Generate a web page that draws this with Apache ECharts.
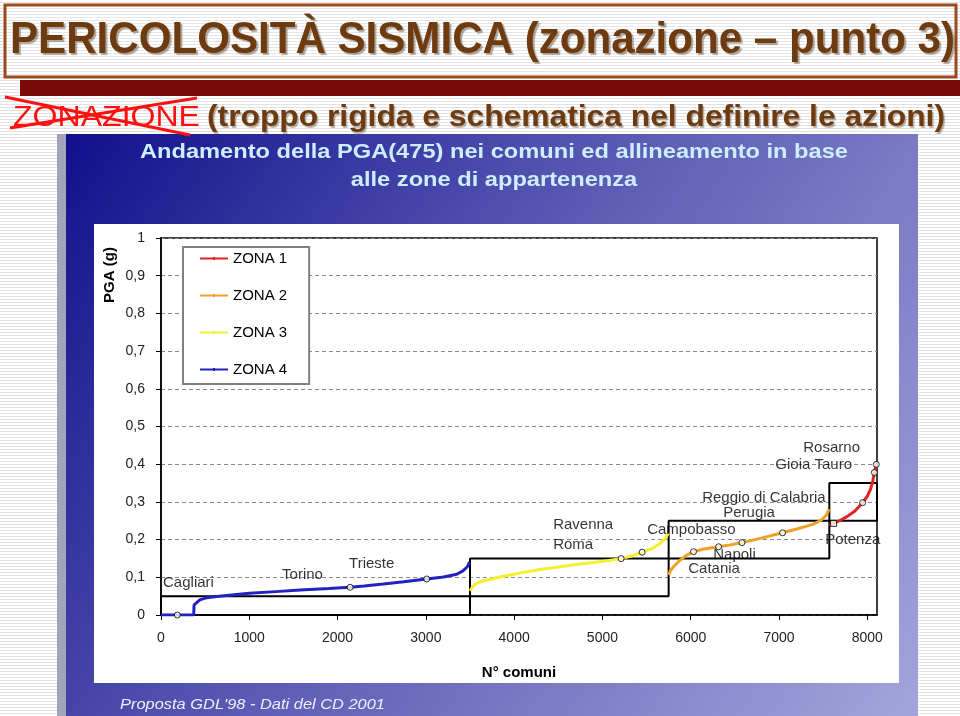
<!DOCTYPE html>
<html>
<head>
<meta charset="utf-8">
<script src="https://cdn.jsdelivr.net/npm/echarts@6/dist/echarts.min.js"></script>
<style>
html,body{margin:0;padding:0;}
body{width:960px;height:716px;overflow:hidden;
background:repeating-linear-gradient(to bottom,#ffffff 0px,#ffffff 2px,#e2e2e2 2px,#e2e2e2 3px);}
#chart{width:960px;height:716px;}
</style>
</head>
<body>
<div id="chart"></div>
<script>
// ---------- DATA ----------
const zoneNames = ['ZONA 1', 'ZONA 2', 'ZONA 3', 'ZONA 4'];
// zone limits: [start N°, end N°, low PGA, high PGA]
const zoneStart = [7570, 5750, 3500, 0];
const zoneEnd   = [8110, 7570, 5750, 3500];
const zoneLow   = [0.25, 0.15, 0.05, 0];
const zoneHigh  = [0.35, 0.25, 0.15, 0.05];

// PGA(475) of comuni sorted within zone: [N° comune, PGA g]
const zona4 = [[0,0],[185,0],[370,0],[375,0.027],[440,0.040],[520,0.046],[630,0.049],[800,0.053],
  [1000,0.0575],[1300,0.062],[1575,0.066],[1900,0.070],[2142,0.0735],[2300,0.077],[2518,0.082],
  [2750,0.088],[3010,0.0955],[3200,0.101],[3350,0.108],[3420,0.117],[3470,0.128],[3495,0.141]];
const zona3 = [[3500,0.064],[3530,0.075],[3570,0.083],[3615,0.088],[3766,0.097],[3950,0.106],
  [4144,0.1146],[4330,0.122],[4521,0.128],[4700,0.134],[4899,0.139],[5050,0.144],[5212,0.1495],
  [5350,0.158],[5450,0.1665],[5560,0.176],[5654,0.19],[5710,0.202],[5748,0.217]];
const zona2 = [[5750,0.106],[5770,0.118],[5805,0.128],[5881,0.146],[5950,0.158],[6032,0.168],
  [6150,0.175],[6316,0.181],[6450,0.186],[6580,0.192],[6800,0.204],[7040,0.218],[7200,0.228],
  [7392,0.241],[7480,0.252],[7540,0.266],[7568,0.281]];
const zona1 = [[7570,0.238],[7618,0.243],[7700,0.252],[7770,0.261],[7860,0.276],[7947,0.298],
  [8000,0.315],[8034,0.332],[8060,0.352],[8080,0.378],[8102,0.3995]];

// highlighted comuni: [name, N°, PGA]
const cityPoints = [['Cagliari',185,0],['Torino',2142,0.0735],['Trieste',3010,0.0955],
  ['Roma',5212,0.1495],['Ravenna',5450,0.1665],['Catania',6032,0.168],['Napoli',6316,0.181],
  ['Campobasso',6580,0.192],['Perugia',7040,0.218],['Potenza',7618,0.243],
  ['Reggio di Calabria',7947,0.298],['Gioia Tauro',8080,0.378],['Rosarno',8102,0.3995]];
// label anchors in data space: [name, N°, PGA]
const cityLabels = [['Cagliari',23,0.085],['Torino',1371,0.106],['Trieste',2130,0.135],
  ['Ravenna',4442,0.239],['Roma',4442,0.186],['Campobasso',5507,0.225],['Napoli',6255,0.159],
  ['Catania',5972,0.122],['Perugia',6368,0.271],['Reggio di Calabria',6130,0.310],
  ['Potenza',7524,0.199],['Rosarno',7275,0.443],['Gioia Tauro',6958,0.398]];

const xTicks = {min:0, max:8110, interval:1000};
const yTicks = {min:0, max:1, interval:0.1};

// ---------- STYLE ----------
const zoneColors = ['#e02424', '#eea028', '#f4f030', '#2222c0'];
const FONT = '"Liberation Sans", Arial, sans-serif';
const legendIcon = 'path://M0,6L28,6L28,8L0,8Z M13,5.4L15,5.4L15,8.6L13,8.6Z';

const ctx = document.createElement('canvas').getContext('2d');
function fit(text, font, target){ ctx.font = font; return target / ctx.measureText(text).width; }

const titleFont = 'bold 44px ' + FONT;
const titleText = 'PERICOLOSITÀ SISMICA (zonazione – punto 3)';
const sub1Font = '30px ' + FONT;
const sub2Font = 'bold 30px ' + FONT;
const sub2Text = '(troppo rigida e schematica nel definire le azioni)';
const chartTitleFont = 'bold 21px ' + FONT;
const ct1 = 'Andamento della PGA(475) nei comuni ed allineamento in base';
const ct2 = 'alle zone di appartenenza';
const ctScale = fit(ct1, chartTitleFont, 708);
const footFont = 'italic 15px ' + FONT;
const footText = "Proposta GDL'98 - Dati del CD 2001";

const zoneData = [zona1, zona2, zona3, zona4];

const series = [];
// zone boxes
for (let i = 0; i < 4; i++) {
  const a = zoneStart[i], b = zoneEnd[i], lo = zoneLow[i], hi = zoneHigh[i];
  series.push({type:'line', name:'box'+i, data:[[a,lo],[b,lo],[b,hi],[a,hi],[a,lo]],
    symbol:'none', lineStyle:{color:'#000', width:2}, z:3, silent:true});
}
// PGA curves
for (let i = 0; i < 4; i++) {
  series.push({type:'line', name:zoneNames[i], data:zoneData[i], symbol:'none',
    color:zoneColors[i], lineStyle:{color:zoneColors[i], width:3}, z:4});
}
// city markers
series.push({type:'scatter', name:'comuni', data:cityPoints.map(c=>({name:c[0], value:[c[1],c[2]]})),
  symbol:(v,p)=> p.name==='Potenza' ? 'rect' : 'circle', symbolSize:6,
  itemStyle:{color:'#fff', borderColor:'#000', borderWidth:1}, z:6});
// city labels
series.push({type:'scatter', name:'etichette', data:cityLabels.map(c=>({name:c[0], value:[c[1],c[2]]})),
  symbolSize:0, z:7, silent:true,
  label:{show:true, position:'right', distance:0, formatter:'{b}', fontSize:15, fontFamily:FONT, color:'#000'}});

const option = {
  animation:false,
  backgroundColor:'transparent',
  graphic:[
    // title box
    {type:'rect', shape:{x:5,y:5,width:951,height:72}, style:{fill:'rgba(255,255,255,0.15)', stroke:'#9a4a1c', lineWidth:3}, z:-20},
    {type:'rect', shape:{x:20,y:80,width:940,height:16}, style:{fill:'#7a0a0a'}, z:-20},
    {type:'text', x:10, y:41, scaleX:fit(titleText,titleFont,945), z:10,
      style:{text:titleText, font:titleFont, fill:'#6e3a10', align:'left', verticalAlign:'middle',
        textShadowColor:'rgba(80,60,40,0.45)', textShadowOffsetX:2, textShadowOffsetY:2, textShadowBlur:1}},
    {type:'text', x:13, y:118, scaleX:fit('ZONAZIONE',sub1Font,187), z:10,
      style:{text:'ZONAZIONE', font:sub1Font, fill:'#ff1010', align:'left', verticalAlign:'middle'}},
    {type:'text', x:207, y:118, scaleX:fit(sub2Text,sub2Font,738), z:10,
      style:{text:sub2Text, font:sub2Font, fill:'#6e3a10', align:'left', verticalAlign:'middle',
        textShadowColor:'rgba(80,60,40,0.4)', textShadowOffsetX:1.5, textShadowOffsetY:1.5, textShadowBlur:1}},
    {type:'line', shape:{x1:5,y1:97,x2:190,y2:135}, style:{stroke:'#ff1010', lineWidth:3}, z:11},
    {type:'line', shape:{x1:10,y1:128,x2:197,y2:98}, style:{stroke:'#ff1010', lineWidth:3}, z:11},
    // panel
    {type:'rect', shape:{x:57,y:134,width:10,height:582}, style:{fill:'#a4a4b8'}, z:-20},
    {type:'rect', shape:{x:66,y:134,width:852,height:582}, z:-20,
      style:{fill:new echarts.graphic.LinearGradient(0,0,1,1,[
        {offset:0,color:'#10108c'},{offset:0.45,color:'#5a5ab4'},{offset:1,color:'#a4a4dc'}])}},
    {type:'rect', shape:{x:94,y:224,width:805,height:459}, style:{fill:'#ffffff'}, z:-19},
    {type:'text', x:494, y:152, scaleX:ctScale, z:10,
      style:{text:ct1, font:chartTitleFont, fill:'#cdeeff', align:'center', verticalAlign:'middle'}},
    {type:'text', x:494, y:180, scaleX:ctScale, z:10,
      style:{text:ct2, font:chartTitleFont, fill:'#cdeeff', align:'center', verticalAlign:'middle'}},
    {type:'text', x:120, y:705, scaleX:fit(footText,footFont,265), z:10,
      style:{text:footText, font:footFont, fill:'#eeeeff', align:'left', verticalAlign:'middle'}},
    {type:'text', x:110, y:275, rotation:Math.PI/2, z:10,
      style:{text:'PGA (g)', font:'bold 15px '+FONT, fill:'#000', align:'center', verticalAlign:'middle'}}
  ],
  legend:{
    data:zoneNames.map(n=>({name:n, icon:legendIcon})), orient:'vertical', left:183, top:247,
    padding:[4,22,7,17], itemWidth:28, itemHeight:14, itemGap:22, symbolKeepAspect:true,
    backgroundColor:'#fff', borderColor:'#808080', borderWidth:2, borderRadius:0,
    textStyle:{fontSize:15, fontFamily:FONT, color:'#000'}
  },
  grid:{left:161, right:83, top:238, bottom:101, show:true, backgroundColor:'transparent',
    borderColor:'#000', borderWidth:1.5, containLabel:false},
  xAxis:{type:'value', min:xTicks.min, max:xTicks.max, interval:xTicks.interval,
    name:'N° comuni', nameLocation:'middle', nameGap:50,
    nameTextStyle:{fontSize:15, fontWeight:'bold', fontFamily:FONT, color:'#000'},
    axisLine:{lineStyle:{color:'#000', width:1.5}},
    axisTick:{show:true, length:5, lineStyle:{color:'#000'}},
    axisLabel:{fontSize:14, fontFamily:FONT, color:'#222', margin:16, showMaxLabel:false,
      formatter:v=> String(Math.round(v))},
    splitLine:{show:false}},
  yAxis:{type:'value', min:yTicks.min, max:yTicks.max, interval:yTicks.interval,
    axisLine:{show:true, lineStyle:{color:'#000', width:1.5}},
    axisTick:{show:true, length:5, lineStyle:{color:'#000'}},
    axisLabel:{fontSize:14, fontFamily:FONT, color:'#222', margin:16,
      formatter:v=> (Math.round(v*10)/10).toString().replace('.', ',')},
    splitLine:{show:true, lineStyle:{color:'#8a8a8a', type:[4,3], width:1}}},
  series:series
};
const chart = echarts.init(document.getElementById('chart'), null, {renderer:'canvas'});
chart.setOption(option);
</script>
</body>
</html>
